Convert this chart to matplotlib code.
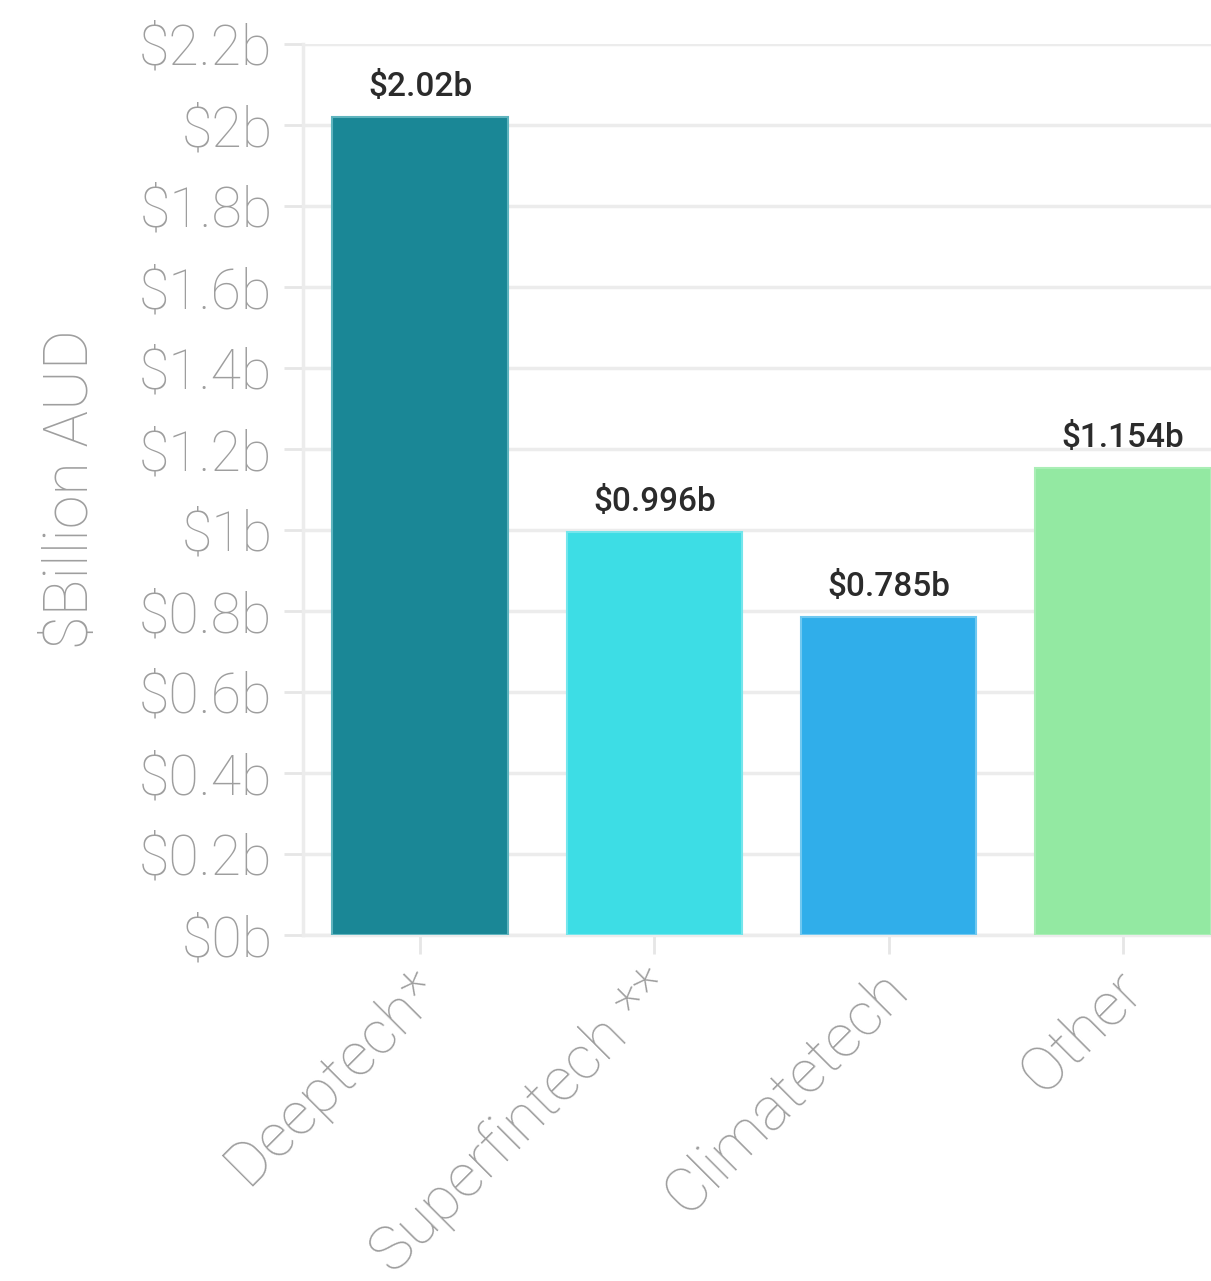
import matplotlib
matplotlib.use("Agg")
import matplotlib.pyplot as plt
import matplotlib.transforms as mtransforms
from matplotlib.ticker import FuncFormatter

# Investment by sector
categories = ["Deeptech*", "Superfintech **", "Climatetech", "Other"]
values = [2.02, 0.996, 0.785, 1.154]
value_labels = ["$2.02b", "$0.996b", "$0.785b", "$1.154b"]
bar_colors = ["#1a8796", "#3ddde5", "#30aeea", "#93e9a2"]
edge_colors = ["#5fb4be", "#74e6ec", "#70c8f0", "#aaeeb6"]
y_ticks = [0, 0.2, 0.4, 0.6, 0.8, 1.0, 1.2, 1.4, 1.6, 1.8, 2.0, 2.2]
y_title = "$Billion AUD"

plt.rcParams["font.family"] = ["Roboto", "DejaVu Sans"]

fig = plt.figure(figsize=(12.11, 12.81), dpi=100)
ax = fig.add_axes([303 / 1211, 346 / 1281, 937 / 1211, 891 / 1281])

x = list(range(len(categories)))
ax.bar(x, values, width=0.75, color=bar_colors, edgecolor=edge_colors,
       linewidth=1.5, zorder=3)

for xi, v, lab in zip(x, values, value_labels):
    ax.annotate(lab, (xi, v), xytext=(0, 10), textcoords="offset points",
                ha="center", va="bottom", fontsize=24, color="#2b2b2b",
                fontweight="medium", zorder=4)

ax.set_xlim(-0.5, len(categories) - 0.5)
ax.set_ylim(0, 2.2)
ax.set_yticks(y_ticks)

def fmt(v, pos):
    s = f"{v:.1f}".rstrip("0").rstrip(".")
    return f"${s}b"

ax.yaxis.set_major_formatter(FuncFormatter(fmt))
ax.set_xticks(x)
ax.set_xticklabels(categories, rotation=45, ha="right", va="center",
                   rotation_mode="anchor")

ax.grid(axis="y", color="#ececec", linewidth=2.5, zorder=0)
for side in ["top", "right"]:
    ax.spines[side].set_visible(False)
ax.spines["left"].set_color("#ececec")
ax.spines["left"].set_linewidth(2.5)
ax.spines["bottom"].set_color("#ececec")
ax.spines["bottom"].set_linewidth(2.5)

label_gray = "#9e9e9e"
ax.tick_params(axis="y", length=14, width=2, color="#e6e6e6",
               labelsize=40, labelcolor=label_gray, pad=8)
ax.tick_params(axis="x", length=14, width=2, color="#e6e6e6",
               labelsize=44, labelcolor=label_gray, pad=14)
for t in ax.get_yticklabels() + ax.get_xticklabels():
    t.set_fontweight("light")

# nudge the rotated category labels slightly right and down
shift = mtransforms.ScaledTranslation(10 / 100, -6 / 100, fig.dpi_scale_trans)
for t in ax.get_xticklabels():
    t.set_transform(t.get_transform() + shift)

ax.set_ylabel(y_title, fontsize=44, color=label_gray, fontweight="light",
              labelpad=28)

fig.savefig("out.png", dpi=100)
